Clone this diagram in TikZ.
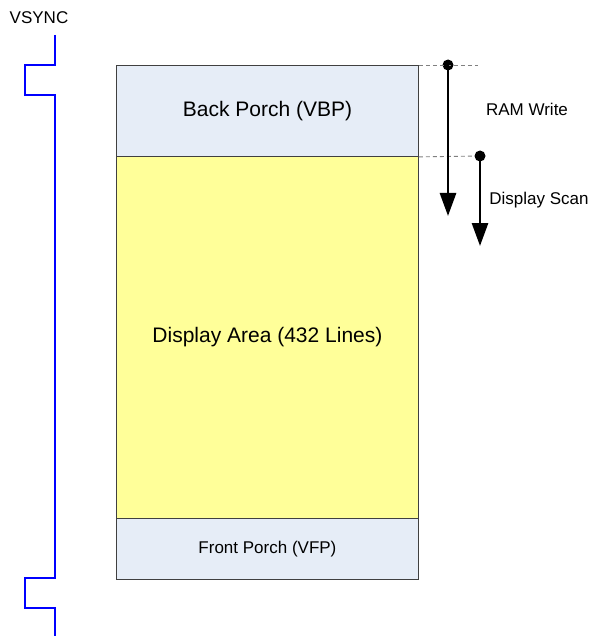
\documentclass[tikz,border=0pt]{standalone}
\usepackage{fontspec}
\setmainfont{Liberation Sans}
\usetikzlibrary{arrows.meta, positioning, calc}

\definecolor{porchblue}{HTML}{E6EDF7}
\definecolor{areayellow}{HTML}{FFFF99}
\definecolor{framegray}{HTML}{404040}

\begin{document}
\begin{tikzpicture}[
    x=1pt, y=-1pt,
    band/.style={draw=framegray, line width=0.9pt, minimum width=302pt, inner sep=0pt, anchor=north west},  % Bands of the frame
    dot/.style={circle, fill=black, inner sep=0pt, minimum size=11pt},                                     % Start points
    scan/.style={line width=2.8pt, -{Triangle[length=23pt, width=16pt]}},                                   % Scan arrows
    guide/.style={dash pattern=on 4pt off 3pt, draw=gray, line width=0.9pt}                                 % Dashed guides
]
\useasboundingbox (0,0) rectangle (589,636);

% --- VSYNC SIGNAL ---
\node (vsync) at (39,18) {\fontsize{17}{20}\selectfont VSYNC};
\draw[blue, line width=2.2pt]
    (55,35) -- (55,65) -- (25,65) -- (25,95) -- (55,95) -- (55,578)
    -- (25,578) -- (25,608) -- (55,608) -- (55,636);

% --- FRAME BANDS ---
\node[band, fill=porchblue, minimum height=91pt] (vbp) at (116,65) {};
\node[band, fill=areayellow, minimum height=362pt] (area) at (116,156) {};
\node[band, fill=porchblue, minimum height=61pt] (vfp) at (116,518) {};

\node at (vbp.center)  {\fontsize{21}{25}\selectfont Back Porch (VBP)};
\node at (area.center) {\fontsize{21}{25}\selectfont Display Area (432 Lines)};
\node at (vfp.center)  {\fontsize{17}{20}\selectfont Front Porch (VFP)};

% --- RAM WRITE AND DISPLAY SCAN ---
\node[dot] (wdot) at (448,65) {};
\node[dot] (sdot) at (480,156) {};
\coordinate (wend) at (478,65);
\coordinate (wtip) at (448,216);
\coordinate (stip) at (480,246);

\draw[guide] (vbp.north east) -- (wend);
\draw[guide] (vbp.south east) -- (sdot);
\draw[scan] (wdot.center) -- (wtip);
\draw[scan] (sdot.center) -- (stip);

\node (ramwrite) at (527,109) {\fontsize{17}{20}\selectfont RAM Write};
\node (dispscan) at (539,200) {\fontsize{17}{20}\selectfont Display Scan};

\end{tikzpicture}
\end{document}
